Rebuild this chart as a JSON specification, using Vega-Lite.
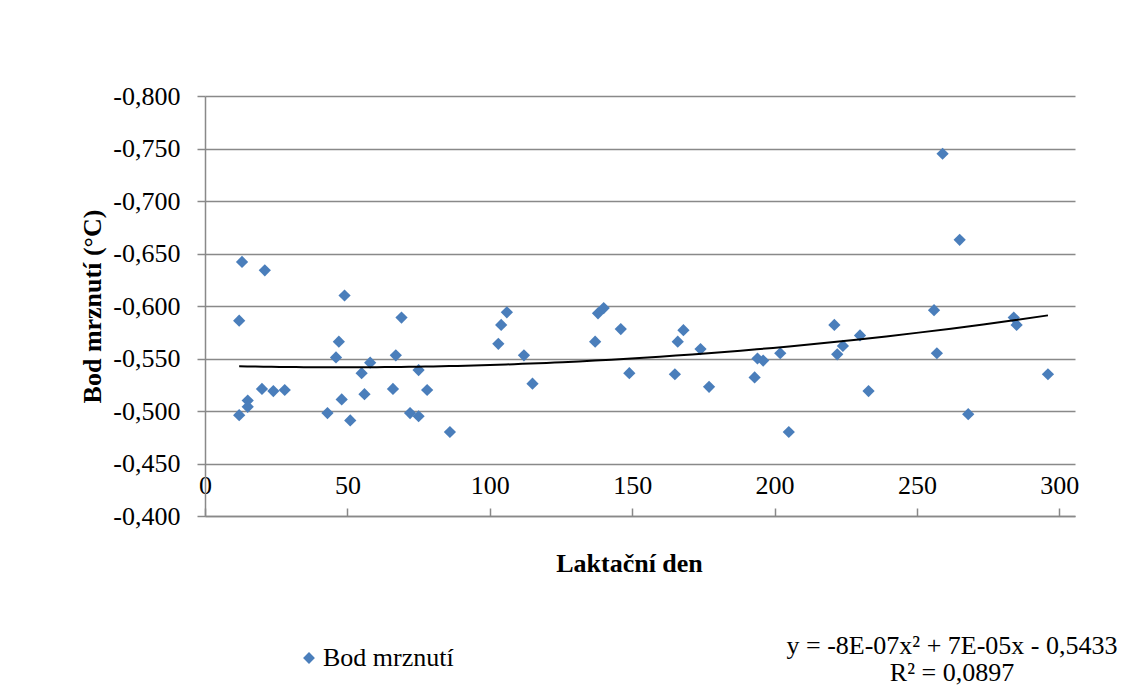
{
  "$schema": "https://vega.github.io/schema/vega-lite/v6.json",
  "width": 870,
  "height": 420,
  "autosize": {"type": "none"},
  "padding": {"left": 205, "top": 96, "right": 52, "bottom": 179},
  "background": "white",
  "config": {"view": {"stroke": null}, "font": "Liberation Serif"},
  "title": {
    "text": ["y = -8E-07x² + 7E-05x - 0,5433", "R² = 0,0897"],
    "orient": "bottom",
    "anchor": "end",
    "frame": "group",
    "align": "center",
    "dx": -123,
    "offset": -38,
    "font": "Liberation Serif",
    "fontSize": 26,
    "fontWeight": "normal",
    "color": "black",
    "lineHeight": 27,
    "baseline": "top"
  },
  "data": {
    "values": [
      {"day": 13, "v": -0.642},
      {"day": 21, "v": -0.634},
      {"day": 12, "v": -0.586},
      {"day": 49, "v": -0.610},
      {"day": 69, "v": -0.589},
      {"day": 47, "v": -0.566},
      {"day": 46, "v": -0.551},
      {"day": 67, "v": -0.553},
      {"day": 58, "v": -0.546},
      {"day": 55, "v": -0.536},
      {"day": 75, "v": -0.539},
      {"day": 20, "v": -0.521},
      {"day": 24, "v": -0.519},
      {"day": 28, "v": -0.520},
      {"day": 15, "v": -0.510},
      {"day": 15, "v": -0.504},
      {"day": 12, "v": -0.496},
      {"day": 48, "v": -0.511},
      {"day": 56, "v": -0.516},
      {"day": 66, "v": -0.521},
      {"day": 78, "v": -0.520},
      {"day": 43, "v": -0.498},
      {"day": 51, "v": -0.491},
      {"day": 72, "v": -0.498},
      {"day": 75, "v": -0.495},
      {"day": 86, "v": -0.480},
      {"day": 103, "v": -0.564},
      {"day": 104, "v": -0.582},
      {"day": 106, "v": -0.594},
      {"day": 112, "v": -0.553},
      {"day": 115, "v": -0.526},
      {"day": 137, "v": -0.566},
      {"day": 138, "v": -0.593},
      {"day": 140, "v": -0.598},
      {"day": 146, "v": -0.578},
      {"day": 149, "v": -0.536},
      {"day": 165, "v": -0.535},
      {"day": 166, "v": -0.566},
      {"day": 168, "v": -0.577},
      {"day": 174, "v": -0.559},
      {"day": 177, "v": -0.523},
      {"day": 193, "v": -0.532},
      {"day": 194, "v": -0.550},
      {"day": 196, "v": -0.548},
      {"day": 202, "v": -0.555},
      {"day": 205, "v": -0.480},
      {"day": 221, "v": -0.582},
      {"day": 222, "v": -0.554},
      {"day": 224, "v": -0.562},
      {"day": 230, "v": -0.572},
      {"day": 233, "v": -0.519},
      {"day": 256, "v": -0.596},
      {"day": 257, "v": -0.555},
      {"day": 259, "v": -0.745},
      {"day": 265, "v": -0.663},
      {"day": 268, "v": -0.497},
      {"day": 284, "v": -0.589},
      {"day": 285, "v": -0.582},
      {"day": 296, "v": -0.535}
    ]
  },
  "layer": [
    {
      "mark": {"type": "point", "shape": "diamond", "filled": true, "size": 150, "opacity": 1},
      "encoding": {
        "x": {
          "field": "day",
          "type": "quantitative",
          "scale": {"domain": [0, 305.5], "nice": false, "zero": false},
          "axis": {
            "values": [0, 50, 100, 150, 200, 250, 300],
            "grid": false,
            "domain": true,
            "domainColor": "#898989",
            "domainWidth": 1.5,
            "ticks": true,
            "tickColor": "#898989",
            "tickSize": -8,
            "tickWidth": 1.5,
            "labelPadding": -23,
            "labelBaseline": "middle",
            "labelFont": "Liberation Serif",
            "labelFontSize": 26,
            "labelColor": "black",
            "labelFlush": false,
            "labelOverlap": false,
            "title": "Laktační den",
            "titleFont": "Liberation Serif",
            "titleFontSize": 26,
            "titleFontWeight": "bold",
            "titleColor": "black",
            "titleX": 424,
            "titleY": 47,
            "titleBaseline": "middle",
            "titleAlign": "center"
          }
        },
        "y": {
          "field": "v",
          "type": "quantitative",
          "scale": {"domain": [-0.8, -0.4], "reverse": true, "nice": false, "zero": false},
          "axis": {
            "values": [-0.8, -0.75, -0.7, -0.65, -0.6, -0.55, -0.5, -0.45, -0.4],
            "grid": true,
            "gridColor": "#898989",
            "gridWidth": 1.5,
            "domain": true,
            "domainColor": "#898989",
            "domainWidth": 1.5,
            "tickColor": "#898989",
            "tickSize": 8,
            "tickWidth": 1.5,
            "labelPadding": 17,
            "labelExpr": "'-' + replace(format(abs(datum.value), '.3f'), '.', ',')",
            "labelFont": "Liberation Serif",
            "labelFontSize": 26,
            "labelColor": "black",
            "labelBaseline": "middle",
            "labelFlush": false,
            "labelOverlap": false,
            "title": "Bod mrznutí (°C)",
            "titleFont": "Liberation Serif",
            "titleFontSize": 26,
            "titleFontWeight": "bold",
            "titleColor": "black",
            "titleX": -113,
            "titleY": 210,
            "titleAngle": -90,
            "titleBaseline": "middle",
            "titleAlign": "center"
          }
        },
        "color": {
          "datum": "Bod mrznutí",
          "scale": {"range": ["#4a7ebb"]},
          "legend": {
            "orient": "none",
            "legendX": 91,
            "legendY": 549,
            "title": null,
            "symbolType": "diamond",
            "symbolSize": 140,
            "symbolStrokeWidth": 0,
            "labelFont": "Liberation Serif",
            "labelFontSize": 26,
            "labelColor": "black",
            "labelOffset": 1,
            "padding": 0
          }
        }
      }
    },
    {
      "transform": [
        {"regression": "v", "on": "day", "method": "poly", "order": 2, "extent": [12, 296]}
      ],
      "mark": {"type": "line", "color": "black", "strokeWidth": 2},
      "encoding": {
        "x": {"field": "day", "type": "quantitative"},
        "y": {"field": "v", "type": "quantitative"}
      }
    }
  ]
}
